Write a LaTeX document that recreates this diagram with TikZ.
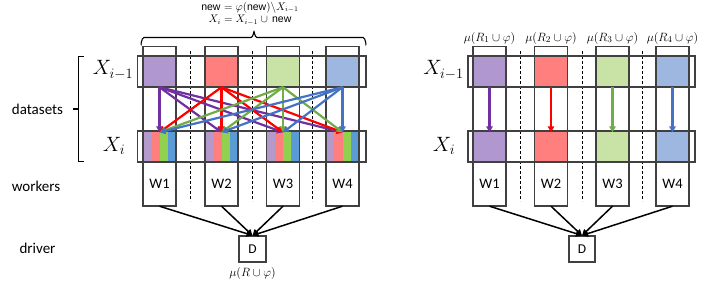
\documentclass[tikz,border=0pt]{standalone}
\usepackage{fontspec}
\setsansfont{Carlito}
\newfontfamily\arialish{Liberation Sans}
\usetikzlibrary{arrows.meta}
\definecolor{boxc}{HTML}{404040}
\definecolor{Lpur}{HTML}{B197CF}
\definecolor{Lred}{HTML}{FF7F7F}
\definecolor{Lgrn}{HTML}{C8E3A5}
\definecolor{Lblu}{HTML}{9DB7E0}
\definecolor{Spur}{HTML}{B399CC}
\definecolor{Sred}{HTML}{FF7F7F}
\definecolor{Sgrn}{HTML}{92D050}
\definecolor{Sblu}{HTML}{5B9BD5}
\definecolor{Apur}{HTML}{7030A0}
\definecolor{Ared}{HTML}{FF0000}
\definecolor{Agrn}{HTML}{70AD47}
\definecolor{Ablu}{HTML}{4472C4}
\begin{document}
\begin{tikzpicture}[x=1pt,y=-1pt,
 box/.style={draw=boxc, line width=1.1pt},
 cell/.style={rectangle, minimum width=33pt, minimum height=31pt, inner sep=0pt},
 wlab/.style={font=\sffamily\fontsize{14.5}{16}\selectfont},
 dlab/.style={font=\sffamily\fontsize{13.5}{16}\selectfont},
 side/.style={font=\sffamily\fontsize{15}{17}\selectfont},
 xlab/.style={font=\fontsize{20}{24}\selectfont},
 mlab/.style={font=\fontsize{13}{15}\selectfont},
 flow/.style={line width=2.2pt, -{Triangle[length=6pt,width=6.5pt]}},
 drv/.style={line width=1.5pt, -{Triangle[length=6pt,width=6pt]}},
 sep/.style={line width=0.8pt, dash pattern=on 3pt off 2pt}
]
\useasboundingbox (0,0) rectangle (706,282);

% ---------------- left panel ----------------
\foreach \c/\n/\col in {159.5/1/Lpur, 221.5/2/Lred, 283/3/Lgrn, 342.5/4/Lblu} {
  \node[cell, fill=\col] (Lp\n) at (\c,71.5) {};
  \fill[Spur] ({\c-16.5},131) rectangle ({\c-8.25},162);
  \fill[Sred] ({\c-8.25},131) rectangle ({\c},162);
  \fill[Sgrn] ({\c},131) rectangle ({\c+8.25},162);
  \fill[Sblu] ({\c+8.25},131) rectangle ({\c+16.5},162);
  \node[cell] (Lx\n) at (\c,146.5) {};
  \node[cell, minimum height=44pt, wlab] (Lw\n) at (\c,184) {W\n};
  \draw[box] ({\c-16.5},46.7) rectangle ({\c+16.5},206);
}
\foreach \x in {190.7,252.7,312.7} \draw[sep] (\x,51) -- (\x,201);
\draw[box] (137.5,56) rectangle (366,87);
\draw[box] (137.5,131) rectangle (366,162);

\foreach \i/\col in {1/Apur,2/Ared,3/Agrn,4/Ablu}
  \foreach \j in {1,...,4}
    \draw[flow,\col] (Lp\i.south) -- ([yshift=-1.5pt]Lx\j.north);

\node[xlab] (LXa) at (113,70) {$X_{i-1}$};
\node[xlab] (LXb) at (114,146) {$X_i$};

\node[side] (ds) at (37.5,109) {datasets};
\node[side] (wk) at (36,186) {workers};
\node[side] (dr) at (37.5,248) {driver};
\draw[line width=1.1pt] (84,56.5) -- (78.5,56.5) -- (78.5,161.5) -- (84,161.5);
\draw[line width=1.1pt] (78.5,109) -- (72.5,109);

% top brace and formulas
\draw[line width=1.1pt] (141,44) to[out=-90,in=180] (144,37.5) -- (251,37.5)
  to[out=0,in=90] (254,32) to[out=90,in=180] (257,37.5) -- (363,37.5)
  to[out=0,in=-90] (366,44);
\node[font=\fontsize{10.5}{12.5}\selectfont, align=center, inner sep=0pt] (form) at (250,13.5)
  {{\arialish new} $= \varphi(\mbox{\arialish new})\backslash X_{i-1}$\\
   $X_i = X_{i-1}\cup{}$\,{\arialish new}};

\node[draw=boxc, line width=1.1pt, minimum width=27pt, minimum height=26pt, inner sep=0pt, dlab] (LD) at (252.5,249) {D};
\node[mlab, font=\fontsize{12}{14}\selectfont] (LDm) at (252.5,273) {$\mu(R\cup\varphi)$};
\foreach \n in {1,...,4} \draw[drv] (Lw\n.south) -- (LD.north);

% ---------------- right panel ----------------
\foreach \c/\n/\col in {489.5/1/Lpur, 551/2/Lred, 612.5/3/Lgrn, 672.5/4/Lblu} {
  \node[cell, fill=\col] (Rp\n) at (\c,71.5) {};
  \node[cell, fill=\col] (Rx\n) at (\c,146.5) {};
  \node[cell, minimum height=44pt, wlab] (Rw\n) at (\c,184) {W\n};
  \draw[box] ({\c-16.5},46.7) rectangle ({\c+16.5},206);
  \node[mlab] (Rm\n) at (\c,38) {$\mu(R_\n\cup\varphi)$};
}
\foreach \x in {520,582,642} \draw[sep] (\x,51) -- (\x,201);
\draw[box] (468,56) rectangle (695,87);
\draw[box] (468,131) rectangle (695,162);
\foreach \n/\col in {1/Apur,2/Ared,3/Agrn,4/Ablu}
  \draw[flow,\col] (Rp\n.south) -- ([yshift=-1.5pt]Rx\n.north);

\node[xlab] (RXa) at (443.5,70) {$X_{i-1}$};
\node[xlab] (RXb) at (444,146) {$X_i$};

\node[draw=boxc, line width=1.1pt, minimum width=26pt, minimum height=26pt, inner sep=0pt, dlab] (RD) at (582,249) {D};
\foreach \n in {1,...,4} \draw[drv] (Rw\n.south) -- (RD.north);
\end{tikzpicture}
\end{document}
